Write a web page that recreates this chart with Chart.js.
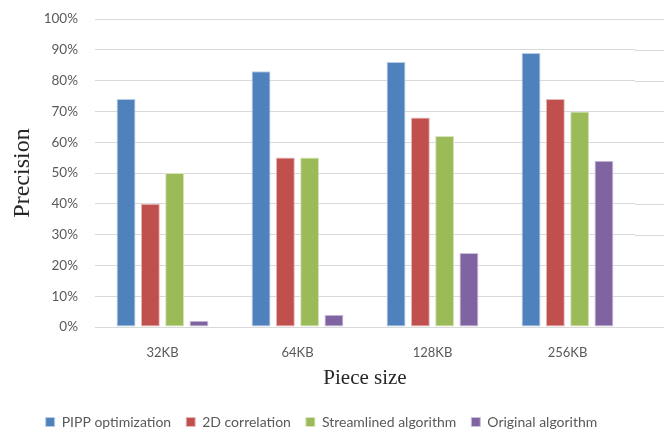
<!DOCTYPE html>
<html>
<head>
<meta charset="utf-8">
<script src="https://cdn.jsdelivr.net/npm/chart.js@4/dist/chart.umd.min.js"></script>
<style>
  html, body { margin: 0; padding: 0; background: #fff; overflow: hidden; }
  #wrap { width: 664px; height: 435px; }
</style>
</head>
<body>
<div id="wrap"><canvas id="precisionChart" width="664" height="435"></canvas></div>
<script>
// piece sizes on the x axis
const pieceSizes = ['32KB', '64KB', '128KB', '256KB'];

// precision per method, in percent
const pippOptimization = [74, 83, 86, 89];
const correlation2D = [40, 55, 68, 74];
const streamlined = [50, 55, 62, 70];
const original = [2, 4, 24, 54];

const seriesNames = ['PIPP optimization', '2D correlation', 'Streamlined algorithm', 'Original algorithm'];
const seriesColors = ['#4F81BD', '#C0504D', '#9BBB59', '#8064A2'];
const seriesEdges = ['#B9CDE5', '#E6B9B8', '#D7E4BD', '#CCC1DA'];

const GRID = '#D9D9D9';
const TEXT = '#595959';
const uiFont = 'Lato, "Open Sans", sans-serif';
const serifFont = '"Liberation Serif", "DejaVu Serif", serif';

// the horizontal gridlines run on past the plot to the edge of the canvas
const gridToEdge = {
    id: 'gridToEdge',
    beforeInit(chart) {
        // keep the legend band a fixed height
        const legend = chart.legend;
        if (legend) {
            const fit = legend.fit;
            legend.fit = function () {
                fit.call(this);
                this.height = 35;
            };
        }
    },
    beforeDatasetsDraw(chart) {
        const { ctx, chartArea, scales } = chart;
        ctx.save();
        ctx.strokeStyle = GRID;
        ctx.lineWidth = 1;
        scales.y.ticks.forEach((t) => {
            const y = Math.round(scales.y.getPixelForValue(t.value)) + 0.5;
            ctx.beginPath();
            ctx.moveTo(chartArea.right, y);
            ctx.lineTo(chart.width, y);
            ctx.stroke();
        });
        ctx.restore();
    }
};

const values = [pippOptimization, correlation2D, streamlined, original];

const ctx = document.getElementById('precisionChart').getContext('2d');
new Chart(ctx, {
    type: 'bar',
    data: {
        labels: pieceSizes,
        datasets: values.map((vals, i) => ({
            label: seriesNames[i],
            data: vals,
            backgroundColor: seriesColors[i],
            borderColor: seriesEdges[i],
            borderWidth: 1,
            borderSkipped: false,
            categoryPercentage: 0.72,
            barPercentage: 0.78
        }))
    },
    options: {
        responsive: false,
        animation: false,
        layout: { padding: { left: 8, right: 29, top: 19, bottom: 0 } },
        plugins: {
            tooltip: { enabled: false },
            legend: {
                position: 'bottom',
                labels: {
                    boxWidth: 9,
                    boxHeight: 9,
                    padding: 15,
                    color: TEXT,
                    font: { family: uiFont, size: 14 }
                }
            }
        },
        scales: {
            x: {
                grid: { display: false },
                border: { color: GRID, width: 1 },
                ticks: {
                    color: TEXT,
                    padding: 10,
                    font: { family: uiFont, size: 13 }
                },
                title: {
                    display: true,
                    text: 'Piece size',
                    color: '#262626',
                    padding: { top: 4, bottom: 9 },
                    font: { family: serifFont, size: 21 }
                },
                afterFit(scale) { scale.height = 73; }
            },
            y: {
                min: 0,
                max: 100,
                ticks: {
                    stepSize: 10,
                    color: TEXT,
                    padding: 17,
                    font: { family: uiFont, size: 13.5 },
                    callback: (v) => v + '%'
                },
                grid: { color: GRID, drawTicks: false },
                border: { display: false },
                title: {
                    display: true,
                    text: 'Precision',
                    color: '#262626',
                    padding: 0,
                    font: { family: serifFont, size: 24 }
                },
                afterFit(scale) {
                    scale.width = 87;
                    scale.paddingTop = 0;
                    scale.paddingBottom = 0;
                }
            }
        }
    },
    plugins: [gridToEdge]
});
</script>
</body>
</html>
